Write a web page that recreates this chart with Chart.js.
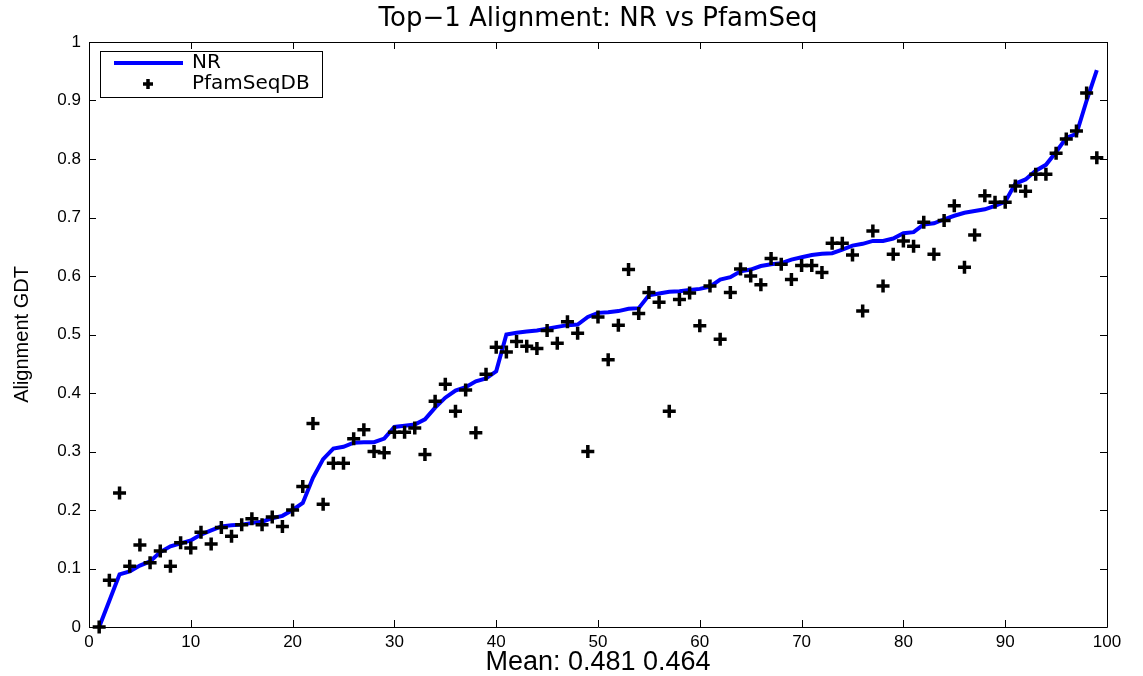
<!DOCTYPE html>
<html>
<head>
<meta charset="utf-8">
<title>Top-1 Alignment: NR vs PfamSeq</title>
<script src="https://cdn.jsdelivr.net/npm/chart.js@4/dist/chart.umd.min.js"></script>
<style>
  html, body { margin: 0; padding: 0; background: #fff; }
  #wrap { width: 1143px; height: 676px; }
</style>
</head>
<body>
<div id="wrap"><canvas id="chart-gdt" width="1143" height="676"></canvas></div>
<script>
'use strict';

//
// GDT of the top-1 alignment, proteins ranked by NR score
//

var seriesNames = ['NR', 'PfamSeqDB'];

var nrGdt = [
	0.000, 0.045, 0.090, 0.095, 0.105, 0.112, 0.128, 0.138, 0.143, 0.148,
	0.158, 0.165, 0.172, 0.174, 0.175, 0.178, 0.180, 0.186, 0.190, 0.200,
	0.212, 0.255, 0.287, 0.305, 0.308, 0.315, 0.316, 0.316, 0.322, 0.342,
	0.344, 0.346, 0.355, 0.375, 0.392, 0.404, 0.410, 0.420, 0.425, 0.437,
	0.500, 0.503, 0.505, 0.507, 0.510, 0.513, 0.516, 0.517, 0.530, 0.537,
	0.538, 0.540, 0.544, 0.545, 0.567, 0.570, 0.573, 0.574, 0.576, 0.578,
	0.582, 0.594, 0.598, 0.608, 0.611, 0.617, 0.620, 0.622, 0.628, 0.632,
	0.636, 0.638, 0.639, 0.645, 0.652, 0.655, 0.660, 0.660, 0.664, 0.673,
	0.675, 0.688, 0.690, 0.697, 0.703, 0.708, 0.711, 0.714, 0.720, 0.727,
	0.758, 0.765, 0.780, 0.790, 0.812, 0.836, 0.843, 0.900, 0.952
];

var pfamGdt = [
	0.000, 0.080, 0.229, 0.104, 0.140, 0.110, 0.130, 0.104, 0.144, 0.135,
	0.162, 0.142, 0.170, 0.155, 0.175, 0.185, 0.175, 0.188, 0.172, 0.200,
	0.240, 0.348, 0.210, 0.280, 0.280, 0.322, 0.337, 0.300, 0.298, 0.333,
	0.333, 0.340, 0.295, 0.386, 0.415, 0.369, 0.405, 0.332, 0.432, 0.478,
	0.470, 0.488, 0.480, 0.476, 0.507, 0.485, 0.522, 0.502, 0.300, 0.530,
	0.457, 0.516, 0.611, 0.536, 0.572, 0.555, 0.369, 0.560, 0.571, 0.515,
	0.583, 0.492, 0.572, 0.612, 0.600, 0.585, 0.630, 0.620, 0.594, 0.618,
	0.618, 0.606, 0.656, 0.656, 0.636, 0.540, 0.677, 0.583, 0.637, 0.660,
	0.651, 0.692, 0.637, 0.695, 0.720, 0.615, 0.670, 0.737, 0.726, 0.726,
	0.754, 0.745, 0.774, 0.774, 0.810, 0.834, 0.848, 0.913, 0.802
];

var chartTitle = 'Top\u22121 Alignment: NR vs PfamSeq';
var meanLabel = 'Mean: 0.481 0.464';
var xTicks = [0, 10, 20, 30, 40, 50, 60, 70, 80, 90, 100];
var yTicks = [0, 0.1, 0.2, 0.3, 0.4, 0.5, 0.6, 0.7, 0.8, 0.9, 1];

var plain = '"Liberation Sans", Arial, sans-serif';
var wide = '"DejaVu Sans", "Liberation Sans", sans-serif';

function ranked(values) {
	return values.map(function(v, i) {
		return { x: i + 1, y: v };
	});
}

// Box round the axes, with inward ticks on all four sides
var axesBox = {
	id: 'axesBox',
	afterDraw: function(chart) {
		var ctx = chart.ctx;
		var a = chart.chartArea;
		var len = 7;
		ctx.save();
		ctx.strokeStyle = '#000';
		ctx.lineWidth = 1;
		ctx.beginPath();
		ctx.rect(a.left + 0.5, a.top + 0.5, a.right - a.left, a.bottom - a.top);
		chart.scales.x.ticks.forEach(function(t) {
			var px = Math.round(chart.scales.x.getPixelForValue(t.value)) + 0.5;
			ctx.moveTo(px, a.bottom);
			ctx.lineTo(px, a.bottom - len);
			ctx.moveTo(px, a.top);
			ctx.lineTo(px, a.top + len);
		});
		chart.scales.y.ticks.forEach(function(t) {
			var py = Math.round(chart.scales.y.getPixelForValue(t.value)) + 0.5;
			ctx.moveTo(a.left, py);
			ctx.lineTo(a.left + len, py);
			ctx.moveTo(a.right, py);
			ctx.lineTo(a.right - len, py);
		});
		ctx.stroke();
		ctx.restore();
	}
};

// Legend box in the upper left corner of the axes
var cornerLegend = {
	id: 'cornerLegend',
	afterDraw: function(chart) {
		var ctx = chart.ctx;
		var a = chart.chartArea;
		var x0 = a.left + 11, y0 = a.top + 9, w = 222, h = 46;
		var sets = chart.data.datasets;
		ctx.save();
		ctx.fillStyle = '#fff';
		ctx.fillRect(x0, y0, w, h);
		ctx.strokeStyle = '#000';
		ctx.lineWidth = 1;
		ctx.strokeRect(x0 + 0.5, y0 + 0.5, w, h);

		// line sample
		ctx.strokeStyle = sets[0].borderColor;
		ctx.lineWidth = sets[0].borderWidth;
		ctx.beginPath();
		ctx.moveTo(x0 + 14, y0 + 12);
		ctx.lineTo(x0 + 83, y0 + 12);
		ctx.stroke();

		// marker sample
		var cx = x0 + 48, cy = y0 + 33, r = 5;
		ctx.strokeStyle = sets[1].borderColor;
		ctx.lineWidth = sets[1].borderWidth;
		ctx.beginPath();
		ctx.moveTo(cx - r, cy);
		ctx.lineTo(cx + r, cy);
		ctx.moveTo(cx, cy - r);
		ctx.lineTo(cx, cy + r);
		ctx.stroke();

		ctx.fillStyle = '#000';
		ctx.font = '20px ' + wide;
		ctx.textBaseline = 'middle';
		ctx.fillText(sets[0].label, x0 + 92, y0 + 12);
		ctx.fillText(sets[1].label, x0 + 92, y0 + 33);
		ctx.restore();
	}
};

var gdtChart = new Chart(document.getElementById('chart-gdt'), {
	type: 'line',
	data: {
		datasets: [{
			label: seriesNames[0],
			data: ranked(nrGdt),
			borderColor: '#0000ff',
			borderWidth: 4,
			pointRadius: 0,
			tension: 0,
			order: 2
		}, {
			label: seriesNames[1],
			data: ranked(pfamGdt),
			showLine: false,
			pointStyle: 'cross',
			pointRadius: 6.5,
			borderColor: '#000',
			backgroundColor: '#000',
			borderWidth: 3.5,
			clip: false,
			order: 1
		}]
	},
	options: {
		responsive: false,
		animation: false,
		events: [],
		layout: {
			padding: { left: 0, right: 36, top: 0, bottom: 0 }
		},
		plugins: {
			legend: { display: false },
			tooltip: { enabled: false }
		},
		scales: {
			// top axis only carries the title, so it sits centred over the plot
			xTop: {
				type: 'linear',
				axis: 'x',
				position: 'top',
				min: xTicks[0],
				max: xTicks[xTicks.length - 1],
				afterFit: function(scale) { scale.height = 42; },
				grid: { display: false, drawTicks: false },
				border: { display: false },
				ticks: { display: false },
				title: {
					display: true,
					text: chartTitle,
					color: '#000',
					padding: { top: 4, bottom: 0 },
					font: { family: wide, size: 26, lineHeight: 1.2 }
				}
			},
			x: {
				type: 'linear',
				min: xTicks[0],
				max: xTicks[xTicks.length - 1],
				afterBuildTicks: function(scale) {
					scale.ticks = xTicks.map(function(v) { return { value: v }; });
				},
				afterFit: function(scale) { scale.height = 49; },
				grid: { display: false, drawTicks: false },
				border: { display: false },
				ticks: {
					color: '#000',
					padding: 5,
					maxRotation: 0,
					font: { family: plain, size: 17 }
				},
				title: {
					display: true,
					text: meanLabel,
					color: '#000',
					padding: { top: 0, bottom: 0 },
					font: { family: plain, size: 27, lineHeight: 1 }
				}
			},
			y: {
				type: 'linear',
				min: yTicks[0],
				max: yTicks[yTicks.length - 1],
				afterBuildTicks: function(scale) {
					scale.ticks = yTicks.map(function(v) { return { value: v }; });
				},
				afterFit: function(scale) { scale.width = 89; },
				grid: { display: false, drawTicks: false },
				border: { display: false },
				ticks: {
					color: '#000',
					padding: 8,
					font: { family: plain, size: 17 },
					callback: function(v) { return String(Math.round(v * 10) / 10); }
				},
				title: {
					display: true,
					text: 'Alignment GDT',
					color: '#000',
					padding: { top: 10, bottom: 0 },
					font: { family: plain, size: 20, lineHeight: 1.2 }
				}
			}
		}
	},
	plugins: [axesBox, cornerLegend]
});
</script>
</body>
</html>
